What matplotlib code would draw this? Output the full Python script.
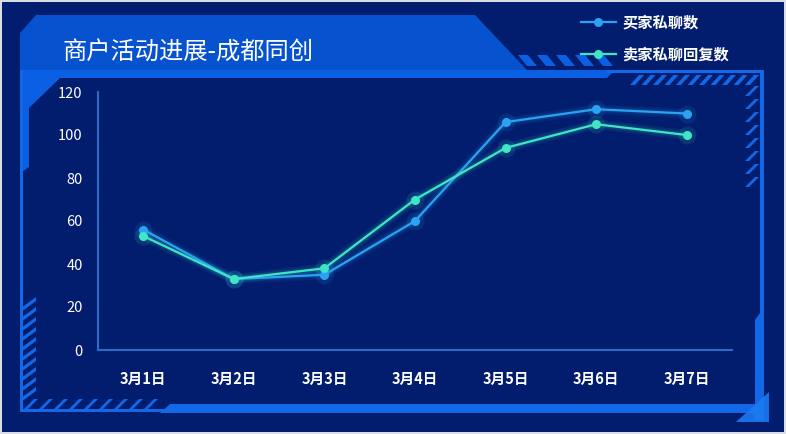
import matplotlib
matplotlib.use('Agg')
import matplotlib.pyplot as plt
from matplotlib.patches import Polygon, Rectangle

plt.rcParams['font.family'] = ['Noto Sans CJK SC', 'DejaVu Sans']

# 数据
days = ['3月1日', '3月2日', '3月3日', '3月4日', '3月5日', '3月6日', '3月7日']
buyer_chats = [56, 33, 35, 60, 106, 112, 110]
seller_replies = [53, 33, 38, 70, 94, 105, 100]
series_names = ['买家私聊数', '卖家私聊回复数']
title = '商户活动进展-成都同创'

W, H = 786, 434
navy = '#021d6d'
banner = '#0652cf'
strip = '#0a5fe2'
edge = '#1268e6'
buyer_color = '#2ba3f2'
seller_color = '#3fe6c6'

fig = plt.figure(figsize=(W / 100, H / 100), dpi=100, facecolor='#d8dde6')

# ---------------------------------------------------------------
# decorative frame, drawn in pixel coordinates (y goes down)
# ---------------------------------------------------------------
bg = fig.add_axes([0, 0, 1, 1], zorder=0)
bg.set_xlim(0, W)
bg.set_ylim(H, 0)
bg.axis('off')


def poly(pts, color, alpha=1.0):
    bg.add_patch(Polygon(pts, closed=True, facecolor=color, edgecolor='none', alpha=alpha))


def hatch(x0, x1, y0, y1, step, width, slant, color):
    # parallelogram stripes; slant > 0 gives "/" , slant < 0 gives "\"
    x = x0
    while x < x1:
        poly([(x, y1), (x + width, y1), (x + width + slant, y0), (x + slant, y0)], color)
        x += step


bg.add_patch(Rectangle((2, 2), W - 4, H - 4, facecolor=navy, edgecolor='none'))

# title banner
poly([(20, 33), (36, 15), (475, 15), (527, 70), (20, 70)], banner)
hatch(527, 615, 55, 66, 19, 10, -9, strip)

# strip under banner + top line
poly([(20, 70), (615, 70), (607, 78), (20, 78)], strip)
poly([(607, 70), (764, 70), (764, 73), (607, 73)], edge)
hatch(630, 752, 75, 85, 11.5, 5, 9, edge)

# left top panel
poly([(20, 78), (60, 78), (29, 108), (29, 167), (22, 172), (20, 172)], strip)
poly([(20, 70), (22.5, 70), (22.5, 412), (20, 412)], edge)
for yy in range(297, 392, 10):
    poly([(22.5, yy + 10), (22.5, yy + 14), (36, yy + 4), (36, yy)], edge)
hatch(23, 150, 399, 410, 15, 4, 11, edge)

# right side
poly([(760, 70), (764, 70), (764, 420), (760, 420)], edge)
poly([(760, 313), (764, 313), (764, 420), (755, 420), (755, 320)], edge)
for yy in range(88, 192, 13):
    poly([(745, yy + 8), (749, yy + 8), (759, yy - 2), (755, yy - 2)], edge)

# bottom
poly([(20, 409), (764, 409), (764, 412), (20, 412)], edge)
poly([(160, 413), (170, 404), (756, 404), (756, 413)], edge)
poly([(736, 422), (769, 392), (769, 422)], '#1b7af2', 0.9)

# ---------------------------------------------------------------
# chart
# ---------------------------------------------------------------
ax = fig.add_axes([98 / W, (H - 350) / H, 634 / W, 258 / H], zorder=2)
ax.patch.set_alpha(0)
x = list(range(len(days)))

for vals, color in [(buyer_chats, buyer_color), (seller_replies, seller_color)]:
    # glow
    ax.plot(x, vals, color=color, lw=7, alpha=0.08, solid_capstyle='round')
    ax.plot(x, vals, color=color, lw=4, alpha=0.12, solid_capstyle='round')
    ax.plot(x, vals, 'o', color=color, ms=13, alpha=0.12, mec='none')

h1, = ax.plot(x, buyer_chats, color=buyer_color, lw=1.6, marker='o', ms=6.5, mec='none')
h2, = ax.plot(x, seller_replies, color=seller_color, lw=1.6, marker='o', ms=6.5, mec='none')

ax.set_xlim(-0.5, len(days) - 0.5)
ax.set_ylim(0, 120)
ax.set_yticks(range(0, 121, 20))
ax.set_xticks(x)
ax.set_xticklabels(days)
for s in ['top', 'right']:
    ax.spines[s].set_visible(False)
for s in ['left', 'bottom']:
    ax.spines[s].set_color('#2c6cc6')
    ax.spines[s].set_linewidth(1.5)
ax.tick_params(axis='y', length=0, pad=11, labelsize=10.5, labelcolor='white')
ax.tick_params(axis='x', length=0, pad=15, labelsize=10.5, labelcolor='white')
for lab in ax.get_xticklabels():
    lab.set_fontweight('bold')

bg.text(63, 53, title, color='white', fontsize=17.5, va='center', ha='left')

fig.legend([h1, h2], series_names, loc='upper left',
           bbox_to_anchor=(573 / W, 1 - 7 / H), frameon=False, borderpad=0,
           handlelength=2.3, handletextpad=0.45, labelspacing=1.05,
           labelcolor='white', prop={'size': 11, 'weight': 'bold'})

fig.savefig('out.png', dpi=100, facecolor=fig.get_facecolor())
